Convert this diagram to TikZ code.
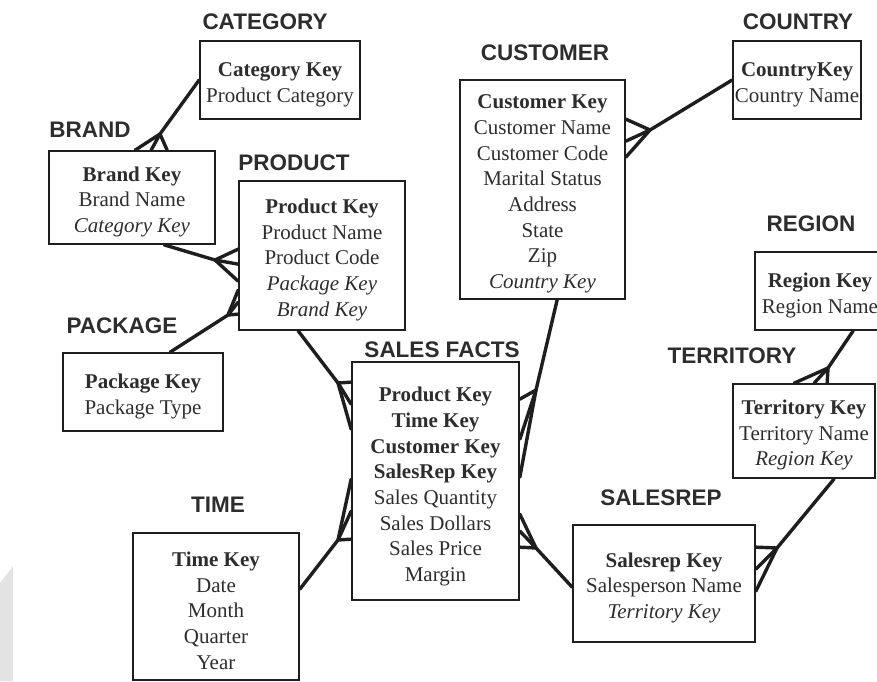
\documentclass[tikz,border=0pt]{standalone}
\usepackage{fontspec}
\setmainfont{Liberation Serif}
\newfontfamily\labelfont{Liberation Sans}
\usetikzlibrary{calc}
\definecolor{ink}{RGB}{30,30,30}
\definecolor{txt}{RGB}{45,45,45}
\newcommand{\topstrut}{\rule{0pt}{23pt}}
\begin{document}
\begin{tikzpicture}[x=1pt,y=-1pt,
  ent/.style={draw=ink, line width=1.7pt, inner sep=0pt, align=center,
    font=\fontsize{21}{25.7}\selectfont, text=txt},
  lbl/.style={font=\labelfont\bfseries\fontsize{22.5}{24}\selectfont, text=txt, inner sep=0pt},
  rel/.style={draw=ink, line width=3.4pt, line join=round, line cap=round},
]
\useasboundingbox (0,0) rectangle (877,681);
\clip (0,0) rectangle (877,681);
\fill[gray!22] (0,583) -- (13,566) -- (13,681) -- (0,681) -- cycle;

% entities
\node[ent, minimum width=160, minimum height=78] (cat) at (280,80)
  {\topstrut\textbf{Category Key}\\Product Category};
\node[ent, minimum width=128, minimum height=78] (country) at (797,80)
  {\topstrut\textbf{CountryKey}\\Country Name};
\node[ent, minimum width=165, minimum height=219] (customer) at (542.5,189.5)
  {\topstrut\textbf{Customer Key}\\Customer Name\\Customer Code\\Marital Status\\Address\\State\\Zip\\\textit{Country Key}};
\node[ent, minimum width=166, minimum height=93] (brand) at (132,197.5)
  {\topstrut\textbf{Brand Key}\\Brand Name\\\textit{Category Key}};
\node[ent, minimum width=166, minimum height=149] (product) at (322,255.5)
  {\topstrut\textbf{Product Key}\\Product Name\\Product Code\\\textit{Package Key}\\\textit{Brand Key}};
\node[ent, minimum width=160, minimum height=78] (package) at (143,392)
  {\topstrut\textbf{Package Key}\\Package Type};
\node[ent, minimum width=130, minimum height=78] (region) at (820,291)
  {\topstrut\textbf{Region Key}\\Region Name};
\node[ent, minimum width=142, minimum height=94] (territory) at (804,431)
  {\topstrut\textbf{Territory Key}\\Territory Name\\\textit{Region Key}};
\node[ent, minimum width=167, minimum height=238] (sales) at (435.5,481)
  {\rule{0pt}{26pt}\textbf{Product Key}\\\textbf{Time Key}\\\textbf{Customer Key}\\\textbf{SalesRep Key}\\Sales Quantity\\Sales Dollars\\Sales Price\\Margin};
\node[ent, minimum width=166, minimum height=147] (time) at (216,606.5)
  {\topstrut\textbf{Time Key}\\Date\\Month\\Quarter\\Year};
\node[ent, minimum width=182, minimum height=117] (salesrep) at (664,583.5)
  {\topstrut\textbf{Salesrep Key}\\Salesperson Name\\\textit{Territory Key}};

% labels
\node[lbl] (lcat) at (265,22) {CATEGORY};
\node[lbl] (lcountry) at (798,22) {COUNTRY};
\node[lbl] (lcustomer) at (545,53) {CUSTOMER};
\node[lbl] (lbrand) at (90,130) {BRAND};
\node[lbl] (lproduct) at (294,163) {PRODUCT};
\node[lbl] (lpackage) at (122,326) {PACKAGE};
\node[lbl] (lregion) at (811,224) {REGION};
\node[lbl] (lterritory) at (732,356) {TERRITORY};
\node[lbl] (lsales) at (442,350) {SALES FACTS};
\node[lbl] (ltime) at (218,505) {TIME};
\node[lbl] (lsalesrep) at (661,498) {SALESREP};

% apex points of crow's feet
\coordinate (cbA) at (160,134);
\coordinate (bpA) at (215,260);
\coordinate (ppA) at (228,315);
\coordinate (psA) at (338,383);
\coordinate (tsA) at (338,540);
\coordinate (csA) at (536,390);
\coordinate (ssA) at (536,548);
\coordinate (ccA) at (650,130);
\coordinate (rtA) at (828,368);
\coordinate (tsrA) at (777,548);

% category - brand
\draw[rel] (cat.west) -- (cbA) -- ($(brand.north west)+(103,0)$);
\draw[rel] (cbA) -- ($(brand.north west)+(87,0)$);
\draw[rel] (cbA) -- ($(brand.north west)+(119,0)$);
% brand - product
\draw[rel] ($(brand.south west)+(116,0)$) -- (bpA) -- ($(product.north west)+(0,84)$);
\draw[rel] (bpA) -- ($(product.north west)+(0,69)$);
\draw[rel] (bpA) -- ($(product.north west)+(0,101)$);
% package - product
\draw[rel] ($(package.north west)+(108,0)$) -- (ppA) -- ($(product.north west)+(0,122)$);
\draw[rel] (ppA) -- ($(product.north west)+(0,110)$);
\draw[rel] (ppA) -- ($(product.north west)+(0,134)$);
% product - sales
\draw[rel] ($(product.south west)+(60,0)$) -- (psA) -- ($(sales.north west)+(0,68)$);
\draw[rel] (psA) -- ($(sales.north west)+(0,21)$);
\draw[rel] (psA) -- ($(sales.north west)+(0,43)$);
% time - sales
\draw[rel] ($(time.north east)+(0,57)$) -- (tsA) -- ($(sales.north west)+(0,118)$);
\draw[rel] (tsA) -- ($(sales.north west)+(0,150)$);
\draw[rel] (tsA) -- ($(sales.north west)+(0,178)$);
% customer - sales
\draw[rel] ($(customer.south west)+(98,0)$) -- (csA) -- ($(sales.north east)+(0,116)$);
\draw[rel] (csA) -- ($(sales.north east)+(0,38)$);
\draw[rel] (csA) -- ($(sales.north east)+(0,78)$);
% salesrep - sales
\draw[rel] ($(salesrep.north west)+(0,63)$) -- (ssA) -- ($(sales.north east)+(0,153)$);
\draw[rel] (ssA) -- ($(sales.north east)+(0,170)$);
\draw[rel] (ssA) -- ($(sales.north east)+(0,186)$);
% country - customer
\draw[rel] (country.west) -- (ccA) -- ($(customer.north east)+(0,62)$);
\draw[rel] (ccA) -- ($(customer.north east)+(0,40)$);
\draw[rel] (ccA) -- ($(customer.north east)+(0,78)$);
% region - territory
\draw[rel] ($(region.south west)+(99,0)$) -- (rtA) -- ($(territory.north west)+(62,0)$);
\draw[rel] (rtA) -- ($(territory.north west)+(82,0)$);
\draw[rel] (rtA) -- ($(territory.north west)+(95,0)$);
% territory - salesrep
\draw[rel] ($(territory.south west)+(102,0)$) -- (tsrA) -- ($(salesrep.north east)+(0,67)$);
\draw[rel] (tsrA) -- ($(salesrep.north east)+(0,23)$);
\draw[rel] (tsrA) -- ($(salesrep.north east)+(0,45)$);
\end{tikzpicture}
\end{document}
